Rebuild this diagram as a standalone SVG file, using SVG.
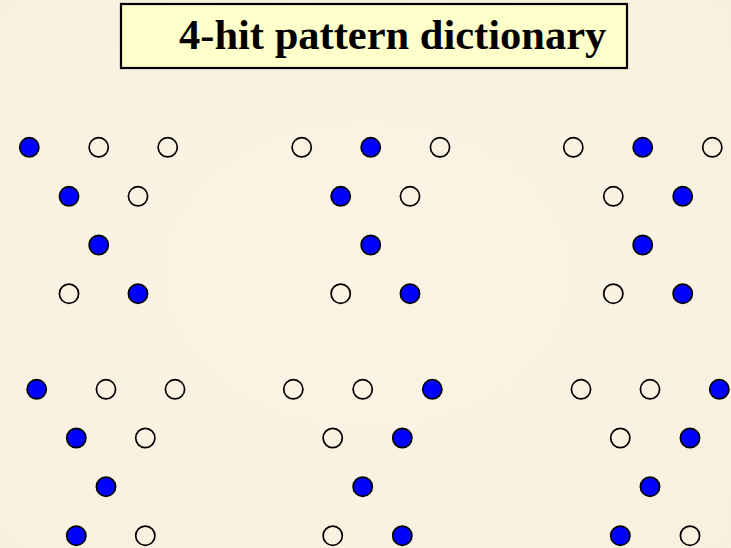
<svg xmlns="http://www.w3.org/2000/svg" width="731" height="548" viewBox="0 0 731 548">
<style>
.f{fill:#0000FF;stroke:#000;stroke-width:1.7}
.e{fill:none;stroke:#000;stroke-width:1.7}
.title{font-family:"Liberation Serif","Times New Roman",serif;font-weight:bold;font-size:42.5px;fill:#000}
</style>
<defs>
<radialGradient id="bg" cx="0.5" cy="0.5" r="0.8">
<stop offset="0" stop-color="#FBF4E5"/>
<stop offset="1" stop-color="#F8F0DE"/>
</radialGradient>
</defs>
<rect width="731" height="548" fill="url(#bg)"/>
<g id="title">
<rect x="121" y="4" width="506" height="64" fill="#FFFFCC" stroke="#000" stroke-width="2.2"/>
<text class="title" x="179" y="48.5">4-hit pattern dictionary</text>
</g>
<g id="pattern1">
<circle class="f" cx="29.3" cy="147.3" r="9.6"/>
<circle class="e" cx="98.7" cy="147.3" r="9.6"/>
<circle class="e" cx="167.7" cy="147.3" r="9.6"/>
<circle class="f" cx="69" cy="196.3" r="9.6"/>
<circle class="e" cx="138" cy="196.3" r="9.6"/>
<circle class="f" cx="98.7" cy="245" r="9.6"/>
<circle class="e" cx="69" cy="293.7" r="9.6"/>
<circle class="f" cx="138" cy="293.7" r="9.6"/>
</g>
<g id="pattern2">
<circle class="e" cx="301.7" cy="147.3" r="9.6"/>
<circle class="f" cx="370.7" cy="147.3" r="9.6"/>
<circle class="e" cx="440" cy="147.3" r="9.6"/>
<circle class="f" cx="340.7" cy="196.3" r="9.6"/>
<circle class="e" cx="410" cy="196.3" r="9.6"/>
<circle class="f" cx="370.7" cy="245" r="9.6"/>
<circle class="e" cx="340.7" cy="293.7" r="9.6"/>
<circle class="f" cx="410" cy="293.7" r="9.6"/>
</g>
<g id="pattern3">
<circle class="e" cx="573.3" cy="147.3" r="9.6"/>
<circle class="f" cx="642.7" cy="147.3" r="9.6"/>
<circle class="e" cx="712.3" cy="147.3" r="9.6"/>
<circle class="e" cx="613.3" cy="196.3" r="9.6"/>
<circle class="f" cx="682.7" cy="196.3" r="9.6"/>
<circle class="f" cx="642.7" cy="245" r="9.6"/>
<circle class="e" cx="613.3" cy="293.7" r="9.6"/>
<circle class="f" cx="682.7" cy="293.7" r="9.6"/>
</g>
<g id="pattern4">
<circle class="f" cx="36.7" cy="389.3" r="9.6"/>
<circle class="e" cx="106" cy="389.3" r="9.6"/>
<circle class="e" cx="175" cy="389.3" r="9.6"/>
<circle class="f" cx="76.3" cy="438" r="9.6"/>
<circle class="e" cx="145.3" cy="438" r="9.6"/>
<circle class="f" cx="106" cy="486.7" r="9.6"/>
<circle class="f" cx="76.3" cy="535.7" r="9.6"/>
<circle class="e" cx="145.3" cy="535.7" r="9.6"/>
</g>
<g id="pattern5">
<circle class="e" cx="293.3" cy="389.3" r="9.6"/>
<circle class="e" cx="362.7" cy="389.3" r="9.6"/>
<circle class="f" cx="432.3" cy="389.3" r="9.6"/>
<circle class="e" cx="332.7" cy="438" r="9.6"/>
<circle class="f" cx="402.3" cy="438" r="9.6"/>
<circle class="f" cx="362.7" cy="486.7" r="9.6"/>
<circle class="e" cx="332.7" cy="535.7" r="9.6"/>
<circle class="f" cx="402.3" cy="535.7" r="9.6"/>
</g>
<g id="pattern6">
<circle class="e" cx="581" cy="389.3" r="9.6"/>
<circle class="e" cx="650" cy="389.3" r="9.6"/>
<circle class="f" cx="719.3" cy="389.3" r="9.6"/>
<circle class="e" cx="620.3" cy="438" r="9.6"/>
<circle class="f" cx="690" cy="438" r="9.6"/>
<circle class="f" cx="650" cy="486.7" r="9.6"/>
<circle class="f" cx="620.3" cy="535.7" r="9.6"/>
<circle class="e" cx="690" cy="535.7" r="9.6"/>
</g>
</svg>
